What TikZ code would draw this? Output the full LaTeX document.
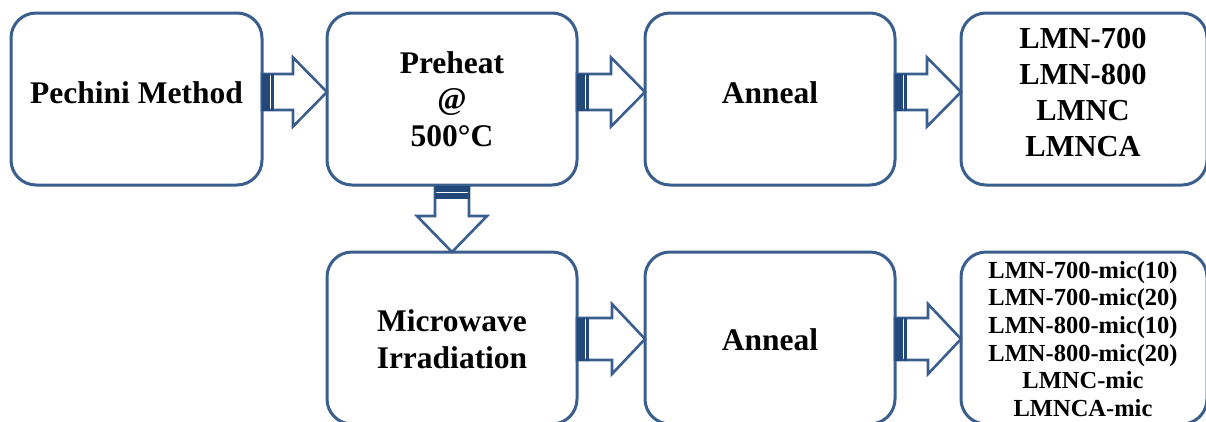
\documentclass[tikz,border=0pt]{standalone}
\usepackage{fontspec}
\setmainfont{Liberation Serif}
\usetikzlibrary{calc}
\definecolor{edge}{HTML}{3A5F8E}
\definecolor{barc}{HTML}{23487A}
\tikzset{
 box/.style={draw=edge, line width=3pt, rounded corners=25pt, fill=white, minimum width=250pt, minimum height=172pt, outer sep=0pt, inner sep=0pt},
 txt/.style={align=center, font=\bfseries\fontsize{31.5}{36.5}\selectfont, inner sep=0pt},
 smalltxt/.style={align=center, font=\bfseries\fontsize{24.5}{27.6}\selectfont, inner sep=0pt},
 blockarrow/.style={draw=edge, line width=2.6pt, fill=white, line join=miter},
 stripe/.style={fill=barc, draw=barc, line width=0.8pt},
}
\newcommand\HArrow[6]{% from, to, dy, shaft half, head half, head length
 \coordinate (ha) at ($(#1.east)+(0pt,#3)$);
 \coordinate (hb) at (ha -| #2.west);
 \draw[blockarrow] ($(ha)+(0pt,#4)$) -- ($(hb)+(-#6,#4)$) -- ($(hb)+(-#6,#5)$) -- (hb)
   -- ($(hb)+(-#6,-#5)$) -- ($(hb)+(-#6,-#4)$) -- ($(ha)+(0pt,-#4)$) -- cycle;
 \filldraw[stripe] ($(ha)+(0pt,-#4)$) rectangle ($(ha)+(7.5pt,#4)$);
 \filldraw[stripe] ($(ha)+(9.5pt,-#4)$) rectangle ($(ha)+(11.5pt,#4)$);
}
\begin{document}
\begin{tikzpicture}[x=1pt,y=-1pt]
\useasboundingbox (0,0) rectangle (1206,421);
\clip (0,0) rectangle (1206,421);
% top row
\node[box, minimum width=251pt] (b1) at (136.5,99) {};
\node[box] (b2) at (452,99) {};
\node[box] (b3) at (770,99) {};
\node[box, minimum width=246pt] (b4) at (1084,99) {};
% bottom row
\node[box] (b5) at (452,338) {};
\node[box] (b6) at (770,338) {};
\node[box, minimum width=246pt] (b7) at (1084,338) {};
% texts
\node[txt] (t1) at ([yshift=6pt]b1.center) {Pechini Method};
\node[txt] (t2) at ([yshift=0pt]b2.center) {Preheat\\@\\500°C};
\node[txt] (t3) at ([yshift=6pt]b3.center) {Anneal};
\node[txt, font=\bfseries\fontsize{30.5}{36}\selectfont] (t4) at ([xshift=-1pt,yshift=6pt]b4.center) {LMN-700\\LMN-800\\LMNC\\LMNCA};
\node[txt] (t5) at ([yshift=-1pt]b5.center) {Microwave\\Irradiation};
\node[txt] (t6) at ([yshift=-2pt]b6.center) {Anneal};
\node[smalltxt] (t7) at ([xshift=-1pt,yshift=-1pt]b7.center) {LMN-700-mic(10)\\LMN-700-mic(20)\\LMN-800-mic(10)\\LMN-800-mic(20)\\LMNC-mic\\LMNCA-mic};
% horizontal block arrows
\HArrow{b1}{b2}{7pt}{18pt}{34.5pt}{34pt}
\HArrow{b2}{b3}{7pt}{18pt}{34.5pt}{34pt}
\HArrow{b3}{b4}{7pt}{18pt}{34.5pt}{34pt}
\HArrow{b5}{b6}{-1pt}{21pt}{35pt}{33pt}
\HArrow{b6}{b7}{-1pt}{21pt}{35pt}{33pt}
% down block arrow
\coordinate (va) at ($(b2.south)+(0pt,-1pt)$);
\coordinate (vb) at (va |- b5.north);
\draw[blockarrow] ($(va)+(-17pt,0pt)$) -- ($(vb)+(-17pt,36pt)$) -- ($(vb)+(-35pt,36pt)$) -- (vb)
  -- ($(vb)+(35pt,36pt)$) -- ($(vb)+(17pt,36pt)$) -- ($(va)+(17pt,0pt)$) -- cycle;
\filldraw[stripe] ($(va)+(-17pt,0pt)$) rectangle ($(va)+(17pt,-5pt)$);
\filldraw[stripe] ($(va)+(-17pt,-7pt)$) rectangle ($(va)+(17pt,-12pt)$);
\end{tikzpicture}
\end{document}
